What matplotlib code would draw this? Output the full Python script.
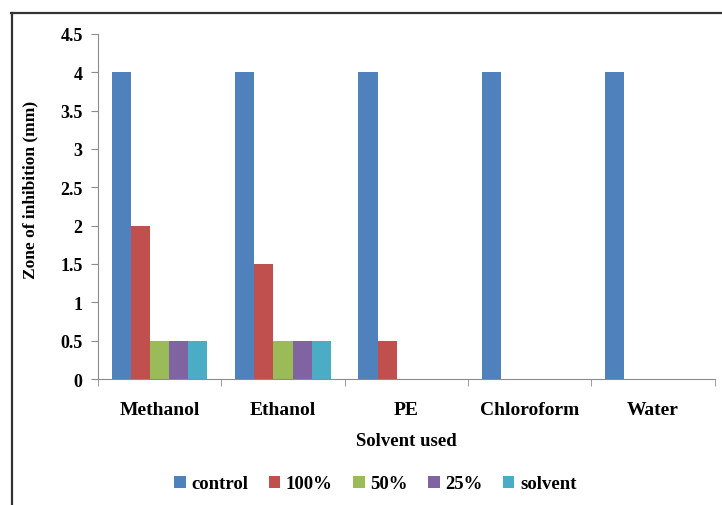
import numpy as np
import matplotlib.pyplot as plt
from matplotlib.lines import Line2D

solvents = ["Methanol", "Ethanol", "PE", "Chloroform", "Water"]
series = ["control", "100%", "50%", "25%", "solvent"]
control = [4, 4, 4, 4, 4]
conc_100 = [2, 1.5, 0.5, 0, 0]
conc_50 = [0.5, 0.5, 0, 0, 0]
conc_25 = [0.5, 0.5, 0, 0, 0]
solvent_only = [0.5, 0.5, 0, 0, 0]
colors = ["#4F81BD", "#C0504D", "#9BBB59", "#8064A2", "#4BACC6"]

plt.rcParams['font.family'] = ['Liberation Serif', 'DejaVu Serif']
plt.rcParams['font.weight'] = 'bold'

fig = plt.figure(figsize=(7.22, 5.06), dpi=100)
ax = fig.add_axes([0.1357, 0.249, 0.854, 0.682])

x = np.arange(len(solvents))
w = 0.155
all_vals = [control, conc_100, conc_50, conc_25, solvent_only]
for i, vals in enumerate(all_vals):
    ax.bar(x + (i - 2) * w, vals, w, color=colors[i], label=series[i])

ax.set_xlim(-0.5, len(solvents) - 0.5)
ax.set_ylim(0, 4.5)
ax.set_yticks(np.arange(0, 4.51, 0.5))
ax.set_yticklabels(["0", "0.5", "1", "1.5", "2", "2.5", "3", "3.5", "4", "4.5"])
ax.set_xticks(x)
ax.set_xticklabels(solvents)
ax.set_xticks(np.arange(-0.5, len(solvents)), minor=True)
ax.tick_params(axis='x', which='major', length=0, pad=16, labelsize=14)
ax.tick_params(axis='x', which='minor', length=5, color='#8c8c8c')
ax.tick_params(axis='y', length=5, color='#8c8c8c', labelsize=13, pad=6)
for s in ['top', 'right']:
    ax.spines[s].set_visible(False)
for s in ['left', 'bottom']:
    ax.spines[s].set_color('#8c8c8c')

ax.set_ylabel("Zone of inhibition (mm)", fontsize=12.5, fontweight='bold')
ax.yaxis.set_label_coords(-0.097, 0.55)
ax.set_xlabel("Solvent used", fontsize=13.5, fontweight='bold', labelpad=10)

ax.legend(loc='upper center', bbox_to_anchor=(0.45, -0.23), ncol=5, frameon=False,
          fontsize=13.5, handlelength=0.6, handleheight=0.6, handletextpad=0.3,
          columnspacing=1.1)

# outer frame lines (top and left)
fig.add_artist(Line2D([11.5 / 722, 11.5 / 722], [0, 1 - 13.5 / 506],
                      transform=fig.transFigure, color='#333333', lw=1.6))
fig.add_artist(Line2D([11 / 722, 1], [1 - 13.5 / 506, 1 - 13.5 / 506],
                      transform=fig.transFigure, color='#333333', lw=1.6))

fig.savefig("out.png", dpi=100)
